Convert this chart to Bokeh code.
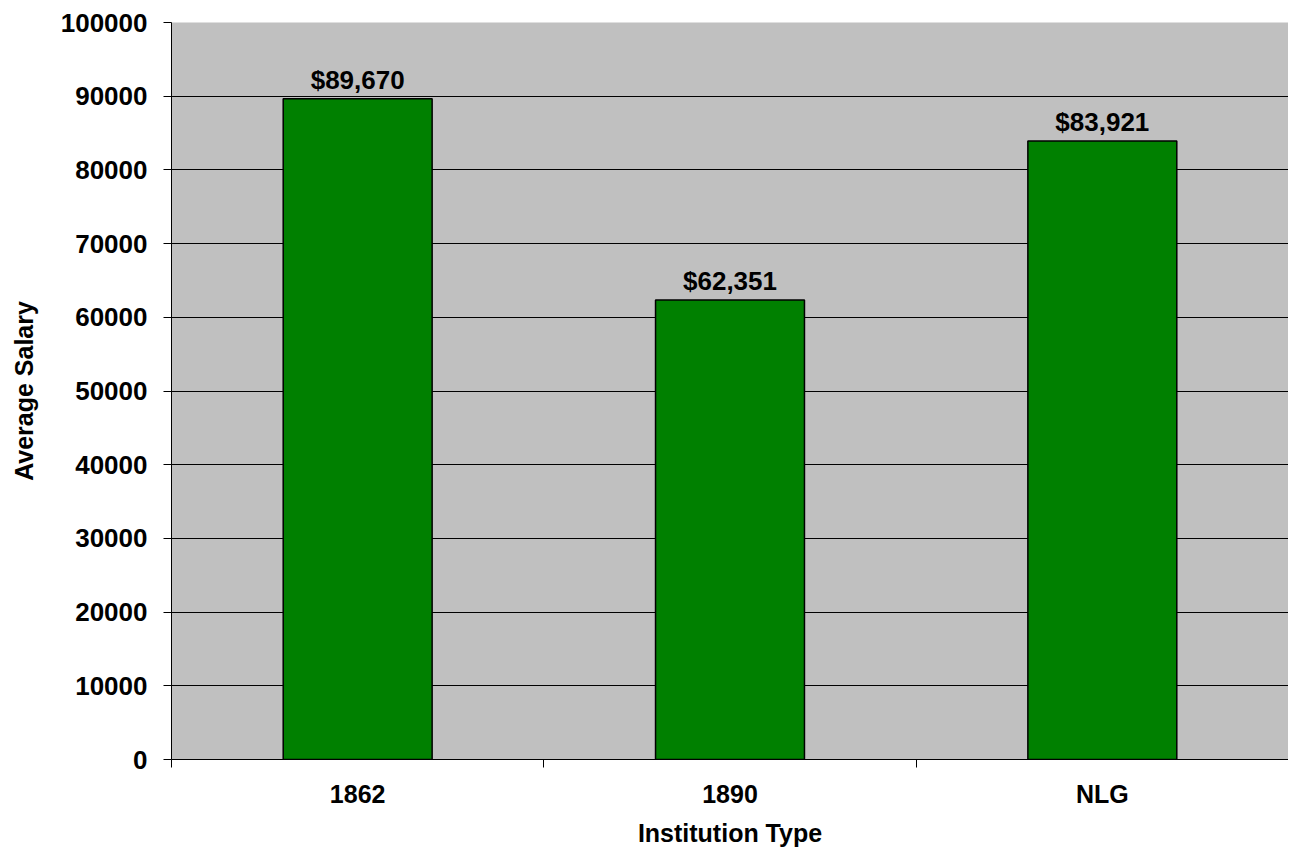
from bokeh.plotting import figure
from bokeh.models import ColumnDataSource, FixedTicker, Range1d, BasicTickFormatter
from bokeh.core.properties import value
from bokeh.embed import file_html
from bokeh.resources import INLINE

categories = ["1862", "1890", "NLG"]
salaries = [89670, 62351, 83921]
y_ticks = [0, 10000, 20000, 30000, 40000, 50000, 60000, 70000, 80000, 90000, 100000]
y_max = 100000

FONT = "Liberation Sans"

xs = [i + 0.5 for i in range(len(categories))]
labels = [f"${v:,}" for v in salaries]
src = ColumnDataSource(dict(x=xs, top=salaries, label=labels))

p = figure(width=1288, height=849, output_backend="svg", toolbar_location=None,
           x_range=Range1d(0, len(categories)), y_range=Range1d(0, y_max),
           min_border_left=171, min_border_top=22, min_border_right=0, min_border_bottom=0)
p.background_fill_color = "#C0C0C0"
p.border_fill_color = "white"
p.outline_line_color = None

p.xgrid.grid_line_color = None
p.ygrid.ticker = FixedTicker(ticks=y_ticks)
p.ygrid.grid_line_color = "black"
p.ygrid.grid_line_width = 1

p.vbar(x="x", top="top", width=0.4, bottom=0, source=src,
       fill_color="#008000", line_color="black", line_width=1.5)
p.text(x="x", y="top", text="label", source=src, text_align="center",
       text_baseline="alphabetic", y_offset=-19, text_font=value(FONT),
       text_font_style="bold", text_font_size="26px", text_color="black")

xa = p.xaxis[0]
xa.ticker = FixedTicker(ticks=xs, minor_ticks=list(range(len(categories) + 1)))
xa.major_label_overrides = {x: c for x, c in zip(xs, categories)}
xa.major_tick_out = 0
xa.major_tick_in = 0
xa.minor_tick_out = 8
xa.minor_tick_in = 0
xa.minor_tick_line_color = "black"
xa.axis_line_color = "black"
xa.major_label_standoff = 12
xa.major_label_text_font = FONT
xa.major_label_text_font_style = "bold"
xa.major_label_text_font_size = "25px"
xa.major_label_text_color = "black"
xa.axis_label = "Institution Type"
xa.axis_label_standoff = 8
xa.axis_label_text_font = FONT
xa.axis_label_text_font_style = "bold"
xa.axis_label_text_font_size = "25px"
xa.axis_label_text_color = "black"

ya = p.yaxis[0]
ya.ticker = FixedTicker(ticks=y_ticks)
ya.formatter = BasicTickFormatter(use_scientific=False)
ya.major_tick_out = 8
ya.major_tick_in = 0
ya.major_tick_line_color = "black"
ya.minor_tick_line_color = None
ya.axis_line_color = "black"
ya.major_label_standoff = 16
ya.major_label_text_font = FONT
ya.major_label_text_font_style = "bold"
ya.major_label_text_font_size = "26px"
ya.major_label_text_color = "black"
ya.axis_label = "Average Salary"
ya.axis_label_standoff = 20
ya.axis_label_text_font = FONT
ya.axis_label_text_font_style = "bold"
ya.axis_label_text_font_size = "25px"
ya.axis_label_text_color = "black"

open("out.html", "w").write(file_html(p, INLINE))
